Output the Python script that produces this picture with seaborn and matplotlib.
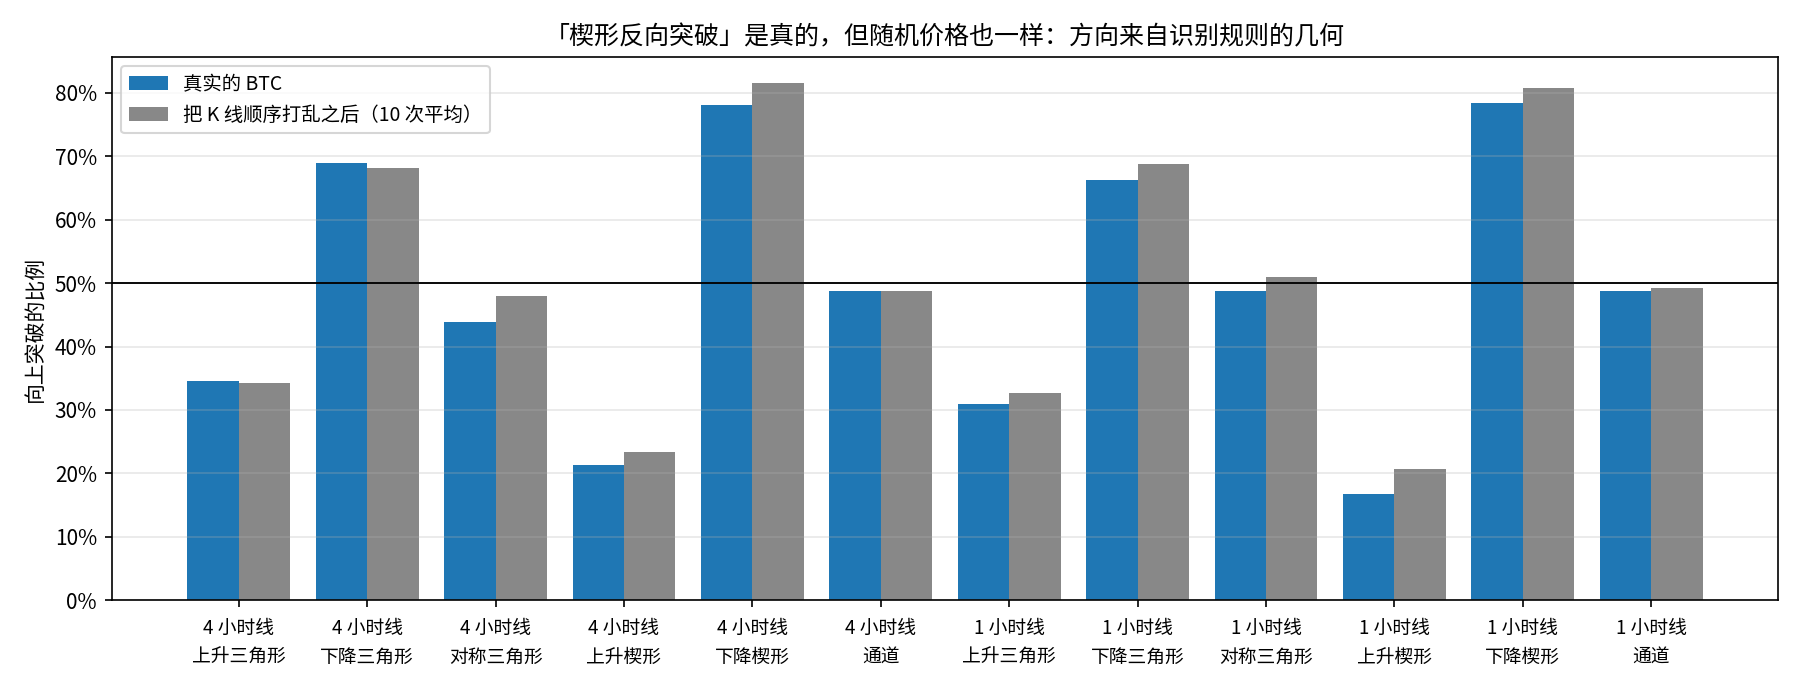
import numpy as np
import pandas as pd
import matplotlib
matplotlib.use("Agg")
import matplotlib.pyplot as plt
import seaborn as sns
from matplotlib.ticker import PercentFormatter

# data
timeframes = ["4 小时线"] * 6 + ["1 小时线"] * 6
patterns = ["上升三角形", "下降三角形", "对称三角形", "上升楔形", "下降楔形", "通道"] * 2
btc_up = [34.6, 68.9, 43.8, 21.4, 78.0, 48.7, 31.0, 66.2, 48.8, 16.8, 78.4, 48.7]
shuffled_up = [34.2, 68.1, 47.9, 23.3, 81.5, 48.8, 32.7, 68.7, 50.9, 20.7, 80.7, 49.3]
series_names = ["真实的 BTC", "把 K 线顺序打乱之后（10 次平均）"]

plt.rcParams['font.family'] = ['Noto Sans CJK SC', 'DejaVu Sans']
plt.rcParams['axes.unicode_minus'] = False

labels = [f"{t}\n{p}" for t, p in zip(timeframes, patterns)]
df = pd.DataFrame({
    "label": labels * 2,
    "series": [series_names[0]] * 12 + [series_names[1]] * 12,
    "value": np.array(btc_up + shuffled_up) / 100.0,
})

fig, ax = plt.subplots(figsize=(12, 4.6), dpi=150)
fig.subplots_adjust(left=0.062, right=0.988, top=0.918, bottom=0.13)

sns.barplot(data=df, x="label", y="value", hue="series", order=labels,
            hue_order=series_names, palette=["#1f77b4", "#888888"],
            saturation=1, width=0.8, errorbar=None, ax=ax)

ax.axhline(0.5, color="black", linewidth=0.9)
ax.yaxis.set_major_formatter(PercentFormatter(1.0, decimals=0))
ax.grid(axis="y", alpha=0.3)
ax.set_xlim(-0.99, 11.99)
ax.set_ylim(0, 0.857)
ax.set_xlabel("")
ax.set_ylabel("向上突破的比例", fontsize=10)
ax.set_title("「楔形反向突破」是真的，但随机价格也一样：方向来自识别规则的几何", fontsize=12)
ax.tick_params(axis="x", labelsize=9, pad=5)
ax.tick_params(axis="y", labelsize=10)
for lab in ax.get_xticklabels():
    lab.set_linespacing(1.5)
ax.legend(loc="upper left", fontsize=9.3, title=None)

fig.savefig("out.png")
